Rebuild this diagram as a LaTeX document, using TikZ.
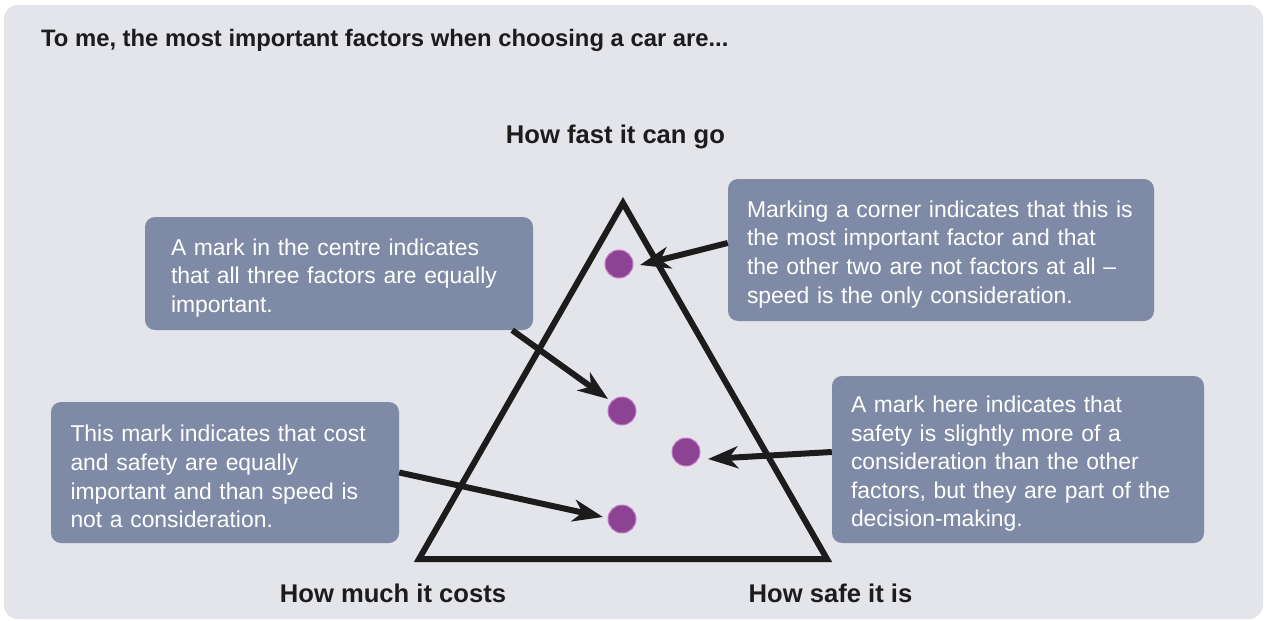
\documentclass[tikz,border=0pt]{standalone}
\usepackage{fontspec}
\setmainfont{Liberation Sans}
\usetikzlibrary{arrows.meta,calc}
\definecolor{panel}{HTML}{E4E5EA}
\definecolor{boxfill}{HTML}{7F8BA6}
\definecolor{markfill}{HTML}{8D4393}
\definecolor{markrim}{HTML}{C27CC6}
\definecolor{ink}{HTML}{1C1C1C}
\begin{document}
\begin{tikzpicture}[x=1pt,y=-1pt,
  note/.style={fill=boxfill, rounded corners=10pt, text=white, align=left,
    inner ysep=0pt, font=\fontsize{22.9}{28.6}\selectfont,
    execute at begin node={\rule{0pt}{25pt}}},
  heading/.style={font=\bfseries\fontsize{25.6}{30}\selectfont, text=ink, inner sep=0pt},
  markdot/.style={circle, fill=markfill, draw=markrim, line width=1pt,
    minimum size=28pt, inner sep=0pt},
  ptr/.style={draw=ink, line width=6pt,
    -{Stealth[length=30pt,width=22pt,inset=9pt]}},
  frame/.style={draw=ink, line width=6pt, line join=miter}
]
% page and panel
\fill[white] (0,0) rectangle (1264,621);
\useasboundingbox (0,0) rectangle (1264,621);
\fill[panel, rounded corners=14pt] (4,5) rectangle (1263,619);

% title
\node[anchor=base west, font=\bfseries\fontsize{23.8}{28}\selectfont, text=ink, inner sep=0pt]
  (title) at (41,46.5) {To me, the most important factors when choosing a car are...};

% the triangle and its corner labels
\coordinate (apex) at (623,203);
\coordinate (cl) at (419,559);
\coordinate (cr) at (827,559);
\draw[frame] (apex) -- (cl) -- (cr) -- cycle;

\node[heading, anchor=base] (fast) at (615.5,143) {How fast it can go};
\node[heading, anchor=base] (cost) at (393,602) {How much it costs};
\node[heading, anchor=base] (safe) at (830.5,602) {How safe it is};

% marks
\node[markdot] (dT) at (619,264) {};
\node[markdot] (dC) at (622,411) {};
\node[markdot] (dR) at (686,452) {};
\node[markdot] (dB) at (622,519) {};

% explanation boxes
\node[note, inner xsep=26pt, text width=336pt, minimum height=113pt] (b1) at (339,273.5)
  {A mark in the centre indicates\\that all three factors are equally\\important.};
\node[note, inner xsep=19pt, text width=388pt, minimum height=142pt] (b2) at (941,250)
  {Marking a corner indicates that this is\\the most important factor and that\\the other two are not factors at all –\\speed is the only consideration.};
\node[note, inner xsep=19.5pt, text width=309pt, minimum height=141pt] (b3) at (225,472.5)
  {This mark indicates that cost\\and safety are equally\\important and than speed is\\not a consideration.};
\node[note, inner xsep=19pt, text width=334pt, minimum height=167pt] (b4) at (1018,459.5)
  {A mark here indicates that\\safety is slightly more of a\\consideration than the other\\factors, but they are part of the\\decision-making.};

% pointers
\draw[ptr] ($(b2.west)+(0,-7)$) -- ($(dT)+(21,1)$);
\draw[ptr] ($(b1.south east)+(-21,0)$) -- ($(dC)+(-14,-12)$);
\draw[ptr] ($(b4.west)+(0,-7.5)$) -- ($(dR)+(22,7)$);
\draw[ptr] (b3.east) -- ($(dB)+(-19,-2)$);
\end{tikzpicture}
\end{document}
